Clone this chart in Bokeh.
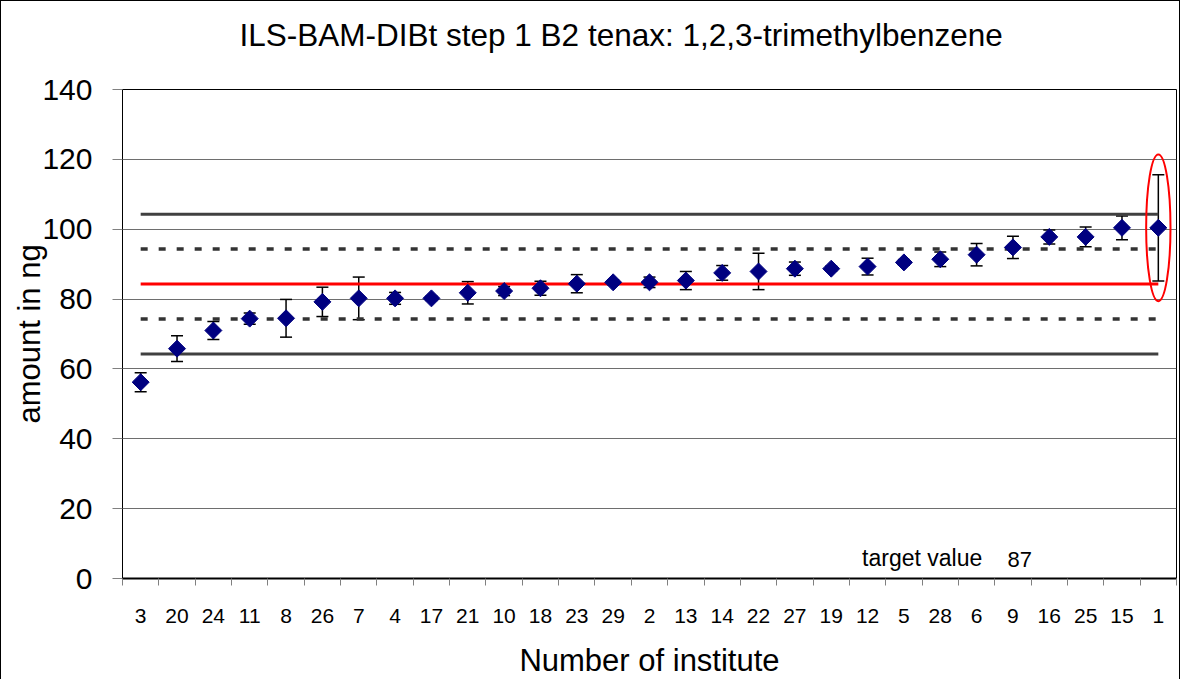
import numpy as np
from bokeh.plotting import figure
from bokeh.models import (ColumnDataSource, Range1d, FixedTicker, Whisker, TeeHead, Label)
from bokeh.embed import file_html
from bokeh.resources import INLINE

# ---- data ----
institutes = ["3", "20", "24", "11", "8", "26", "7", "4", "17", "21", "10", "18", "23", "29", "2",
              "13", "14", "22", "27", "19", "12", "5", "28", "6", "9", "16", "25", "15", "1"]
values = [56.2, 65.8, 71.0, 74.4, 74.5, 79.2, 80.2, 80.2, 80.2, 81.8, 82.3, 83.1, 84.4, 84.8, 84.8,
          85.3, 87.5, 87.9, 88.7, 88.7, 89.3, 90.5, 91.4, 92.7, 94.8, 97.8, 97.8, 100.4, 100.4]
errors = [2.7, 3.7, 2.6, 1.6, 5.4, 4.2, 6.1, 1.7, 0.6, 3.2, 1.3, 2.0, 2.6, 0.7, 1.5,
          2.6, 2.1, 5.2, 1.9, 0.7, 2.4, 0.8, 2.1, 3.2, 3.2, 2.0, 2.8, 3.4, 15.2]
target = 84.3
inner_limit = 10.0
outer_limit = 20.0
target_text = "87"
y_ticks = [0, 20, 40, 60, 80, 100, 120, 140]
title_text = "ILS-BAM-DIBt step 1 B2 tenax: 1,2,3-trimethylbenzene"

FONT = "Liberation Sans"

xs = list(range(1, len(institutes) + 1))
src = ColumnDataSource(dict(
    x=xs, y=values,
    upper=[v + e for v, e in zip(values, errors)],
    lower=[v - e for v, e in zip(values, errors)],
))

p = figure(width=1180, height=679, output_backend="svg", toolbar_location=None,
           x_range=Range1d(0.5, len(xs) + 0.5), y_range=Range1d(0, 140),
           min_border_left=121, min_border_right=5, min_border_top=88, min_border_bottom=95)
p.styles = {"border-left": "1px solid black", "border-top": "1px solid black",
            "border-right": "1px solid black"}
p.background_fill_color = "white"
p.border_fill_color = "white"
p.outline_line_color = "black"
p.outline_line_width = 1

# title (a trailing empty line lifts the text away from the plot frame)
p.title.text = title_text + "\n"
p.title.text_font = FONT
p.title.text_font_size = "31.5px"
p.title.text_font_style = "normal"
p.title.text_color = "black"
p.title.align = "left"
p.title.offset = 117
p.title.standoff = 2

# grid
p.xgrid.visible = False
p.ygrid.grid_line_color = "#6e6e6e"
p.ygrid.grid_line_width = 1

# y axis
p.yaxis.ticker = FixedTicker(ticks=y_ticks)
p.yaxis.axis_line_color = "black"
p.yaxis.major_tick_out = 10
p.yaxis.major_tick_in = 0
p.yaxis.minor_tick_out = 0
p.yaxis.minor_tick_in = 0
p.yaxis.major_tick_line_color = "#808080"
p.yaxis.major_label_standoff = 20
p.yaxis.major_label_text_font = FONT
p.yaxis.major_label_text_font_size = "30px"
p.yaxis.major_label_text_color = "black"
p.yaxis.axis_label = "amount in ng"
p.yaxis.axis_label_text_font = FONT
p.yaxis.axis_label_text_font_size = "31px"
p.yaxis.axis_label_text_font_style = "normal"
p.yaxis.axis_label_text_color = "black"
p.yaxis.axis_label_standoff = -8

# x axis: labels at category centres, tick marks between categories
p.xaxis.ticker = FixedTicker(ticks=xs, minor_ticks=[x + 0.5 for x in [0] + xs])
p.xaxis.major_label_overrides = {x: lab for x, lab in zip(xs, institutes)}
p.xaxis.axis_line_color = "black"
p.xaxis.axis_line_width = 2
p.xaxis.major_tick_out = 0
p.xaxis.major_tick_in = 0
p.xaxis.minor_tick_out = 7
p.xaxis.minor_tick_in = 0
p.xaxis.minor_tick_line_color = "#808080"
p.xaxis.major_label_standoff = 23
p.xaxis.major_label_text_font = FONT
p.xaxis.major_label_text_font_size = "21px"
p.xaxis.major_label_text_color = "black"
p.xaxis.axis_label = "Number of institute"
p.xaxis.axis_label_text_font = FONT
p.xaxis.axis_label_text_font_size = "31px"
p.xaxis.axis_label_text_font_style = "normal"
p.xaxis.axis_label_text_color = "black"
p.xaxis.axis_label_standoff = 17

# reference lines from first to last institute
x_ends = [xs[0], xs[-1]]
for off in (outer_limit, -outer_limit):
    p.line(x_ends, [target + off] * 2, line_color="#404040", line_width=3)
for off in (inner_limit, -inner_limit):
    p.line(x_ends, [target + off] * 2, line_color="#333333", line_width=3.5, line_dash="7 11")
p.line(x_ends, [target] * 2, line_color="#ff0000", line_width=3)

# error bars
head_u = TeeHead(size=12, line_color="black", line_width=1.5)
head_l = TeeHead(size=12, line_color="black", line_width=1.5)
p.add_layout(Whisker(source=src, base="x", upper="upper", lower="lower",
                     line_color="black", line_width=1.5, upper_head=head_u, lower_head=head_l))

# points
p.scatter("x", "y", source=src, marker="square", angle=np.pi / 4, size=12,
          fill_color="#000080", line_color="#000080")

# highlight of last institute
p.ellipse(x=xs[-1], y=values[-1], width=0.67, height=42, fill_color=None,
          line_color="#ff0000", line_width=2)

# target value text
p.add_layout(Label(x=20.85, y=6.0, text="target value", text_align="left",
                   text_baseline="alphabetic", text_font=FONT, text_font_size="23px",
                   text_color="black"))
p.add_layout(Label(x=24.85, y=5.5, text=target_text, text_align="left",
                   text_baseline="alphabetic", text_font=FONT, text_font_size="22px",
                   text_color="black"))

open("out.html", "w").write(file_html(p, INLINE))
